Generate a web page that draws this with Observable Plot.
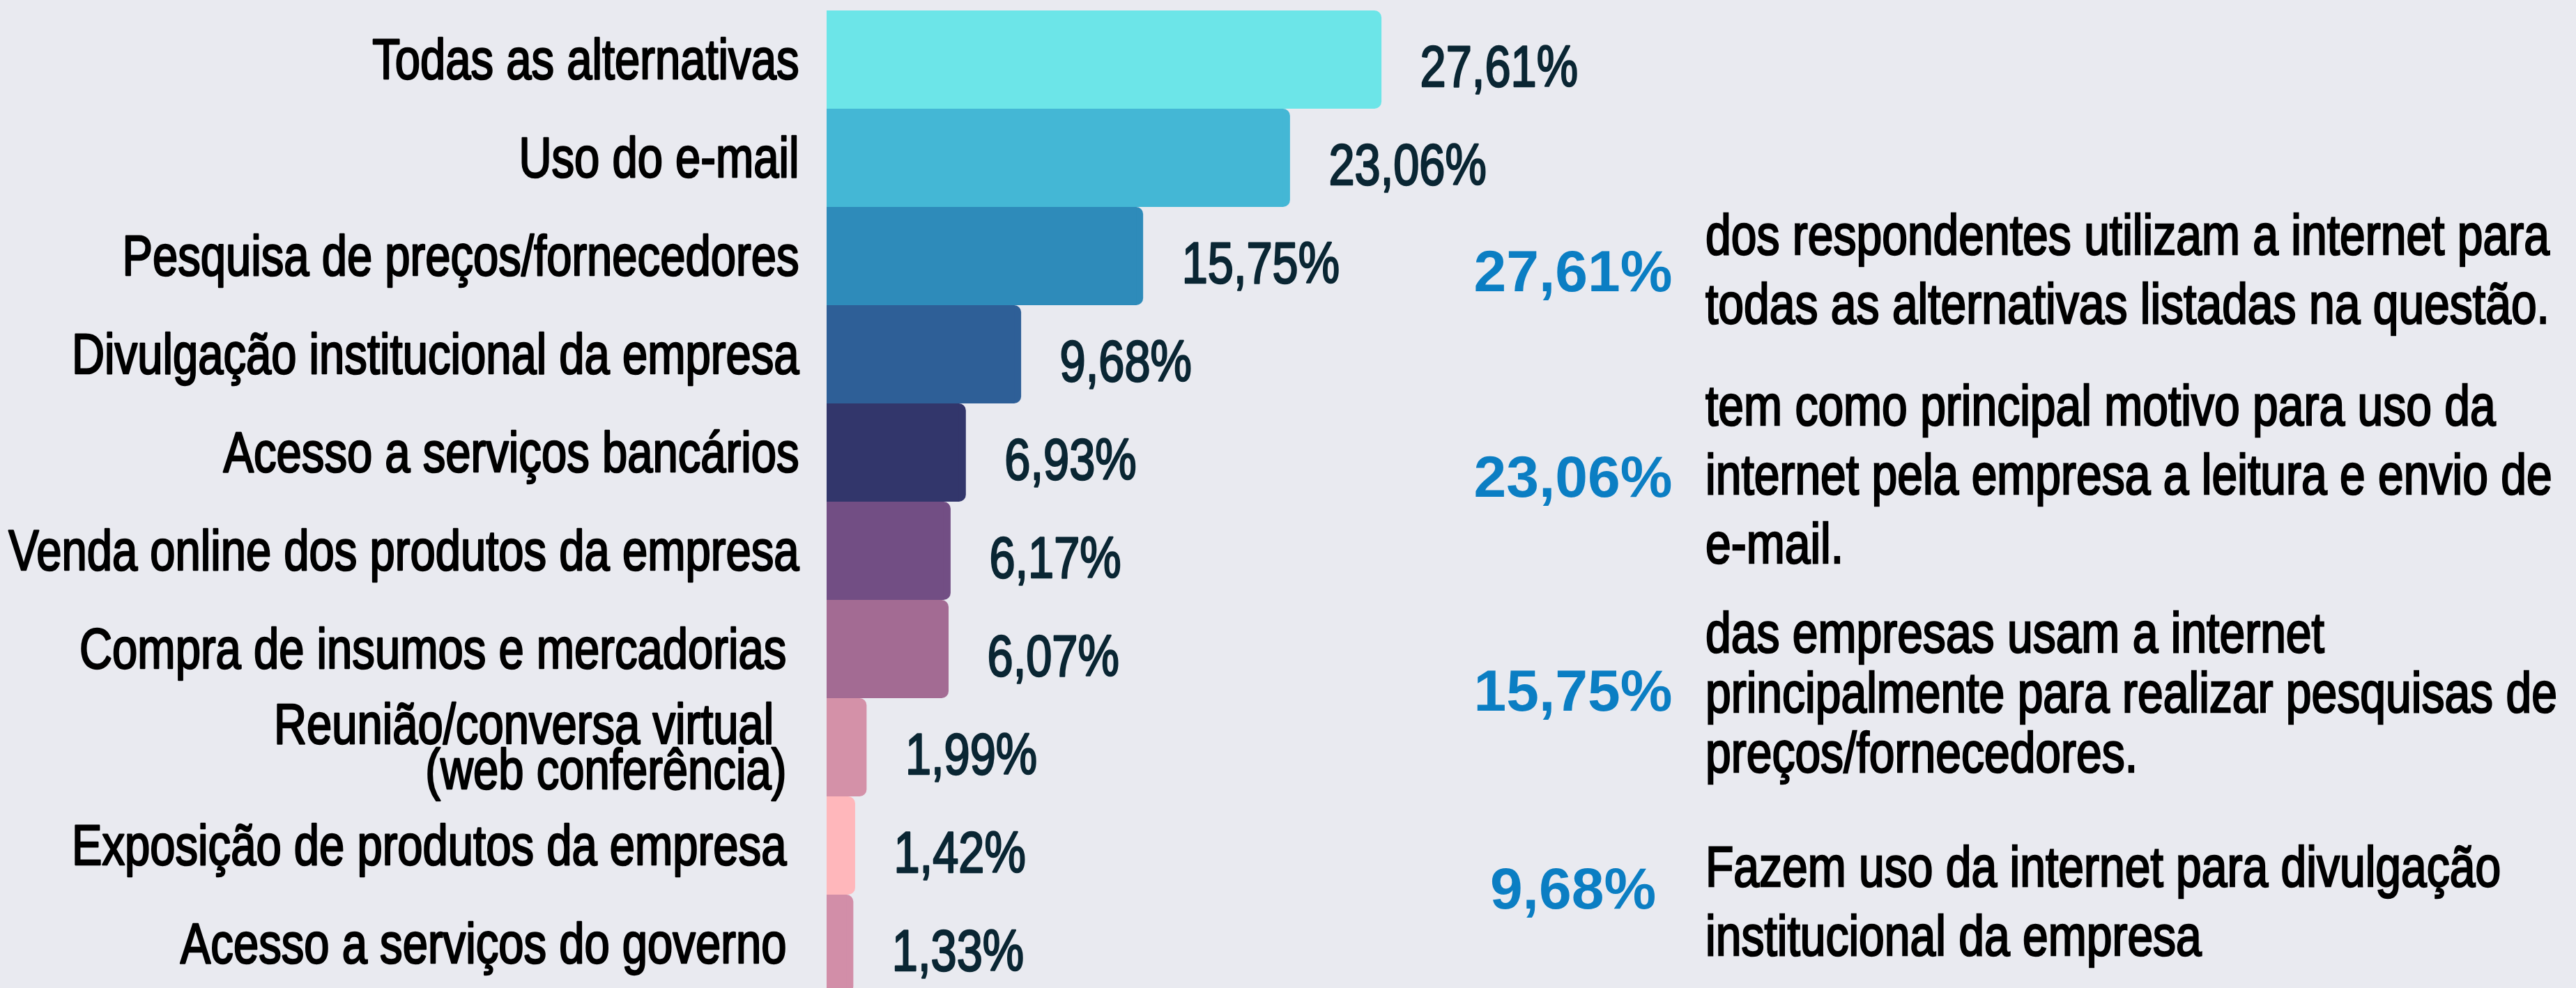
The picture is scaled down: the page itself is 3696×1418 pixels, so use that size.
<!DOCTYPE html>
<html>
<head>
<meta charset="utf-8">
<script src="https://cdn.jsdelivr.net/npm/d3@7"></script>
<script src="https://cdn.jsdelivr.net/npm/@observablehq/plot@0.6"></script>
<style>
  html, body { margin: 0; padding: 0; background: #e9eaf0; }
  #wrap { position: relative; width: 3696px; height: 1418px; overflow: hidden; background: #e9eaf0; }
  #wrap svg { position: absolute; left: 0; top: 0; }
  .note { position: absolute; left: 2447px; font-family: "Liberation Sans", Arial, sans-serif; font-size: 82px; color: #000; -webkit-text-stroke: 2.6px #000; white-space: nowrap; transform: scaleX(0.805); transform-origin: 0 0; }
  .hl { position: absolute; left: 2107px; width: 300px; text-align: center; font-family: "Liberation Sans", Arial, sans-serif; font-weight: 700; font-size: 84px; line-height: 1; color: #0b7ec3; white-space: nowrap; }
</style>
</head>
<body>
<div id="wrap"></div>
<script>
// ---- data ----
const categories = [
  "Todas as alternativas",
  "Uso do e-mail",
  "Pesquisa de preços/fornecedores",
  "Divulgação institucional da empresa",
  "Acesso a serviços bancários",
  "Venda online dos produtos da empresa",
  "Compra de insumos e mercadorias\u00a0",
  "Reunião/conversa virtual\u00a0\u00a0\n(web conferência)\u00a0",
  "Exposição de produtos da empresa\u00a0",
  "Acesso a serviços do governo\u00a0"
];
const values = [27.61, 23.06, 15.75, 9.68, 6.93, 6.17, 6.07, 1.99, 1.42, 1.33];
const valueLabels = ["27,61%", "23,06%", "15,75%", "9,68%", "6,93%", "6,17%", "6,07%", "1,99%", "1,42%", "1,33%"];
const barColors = ["#6ce5e8", "#44b7d5", "#2e8bba", "#2e5f97", "#32366b", "#724e84", "#a36b93", "#d491a8", "#ffb7bb", "#d28ea8"];

const highlights = ["27,61%", "23,06%", "15,75%", "9,68%"];
const notes = [
  ["dos respondentes utilizam a internet para", "todas as alternativas listadas na questão."],
  ["tem como principal motivo para uso da", "internet pela empresa a leitura e envio de", "e-mail."],
  ["das empresas usam a internet", "principalmente para realizar pesquisas de", "preços/fornecedores."],
  ["Fazem uso da internet para divulgação", "institucional da empresa"]
];

// ---- layout (not data) ----
const noteTops = [287, 532, 865, 1194];
const noteLineHeights = [99, 99, 86, 99];
const hlTops = [347, 642, 949, 1233];
const condense = 0.795;

const rows = categories.map((c, i) => ({category: c, value: values[i], label: valueLabels[i]}));
const sans = "'Liberation Sans', Arial, sans-serif";

const W = 3696, H = 1418;
const chart = Plot.plot({
  width: W,
  height: H,
  marginLeft: 1186,
  marginRight: W - 2051,
  marginTop: 15,
  marginBottom: -7,
  x: {domain: [0, 30], axis: null},
  y: {domain: categories, axis: null, padding: 0},
  color: {domain: categories, range: barColors},
  style: {background: "transparent", overflow: "visible"},
  marks: [
    Plot.barX(rows, {y: "category", x: "value", fill: "category", rx: 10}),
    Plot.barX(rows, {y: "category", x: "value", fill: "category", insetRight: 10}),
    Plot.text(rows, {
      y: "category", x: 0, text: "category", textAnchor: "end", dx: -40, dy: 6,
      fontSize: 82, lineHeight: 0.79, fontFamily: sans, fill: "#000",
      stroke: "#000", strokeWidth: 2.6
    }),
    Plot.text(rows, {
      y: "category", x: "value", text: "label", textAnchor: "start", dx: 55, dy: 11,
      fontSize: 84, fontFamily: sans, fill: "#0a2633",
      stroke: "#0a2633", strokeWidth: 2.6
    })
  ]
});

// condense glyphs horizontally (the reference uses a narrow typeface)
chart.querySelectorAll("text").forEach(t => {
  const tr = t.getAttribute("transform");
  if (tr) {
    t.setAttribute("transform", tr + ` scale(${condense},1)`);
  } else {
    const x = +(t.getAttribute("x") || 0), y = +(t.getAttribute("y") || 0);
    t.removeAttribute("x"); t.removeAttribute("y");
    t.setAttribute("transform", `translate(${x},${y}) scale(${condense},1)`);
  }
});

const wrap = document.getElementById("wrap");
wrap.appendChild(chart);

highlights.forEach((h, i) => {
  const d = document.createElement("div");
  d.className = "hl";
  d.style.top = hlTops[i] + "px";
  d.textContent = h;
  wrap.appendChild(d);
  const n = document.createElement("div");
  n.className = "note";
  n.style.top = noteTops[i] + "px";
  n.style.lineHeight = noteLineHeights[i] + "px";
  notes[i].forEach((line, j) => {
    if (j) n.appendChild(document.createElement("br"));
    n.appendChild(document.createTextNode(line));
  });
  wrap.appendChild(n);
});
</script>
</body>
</html>
